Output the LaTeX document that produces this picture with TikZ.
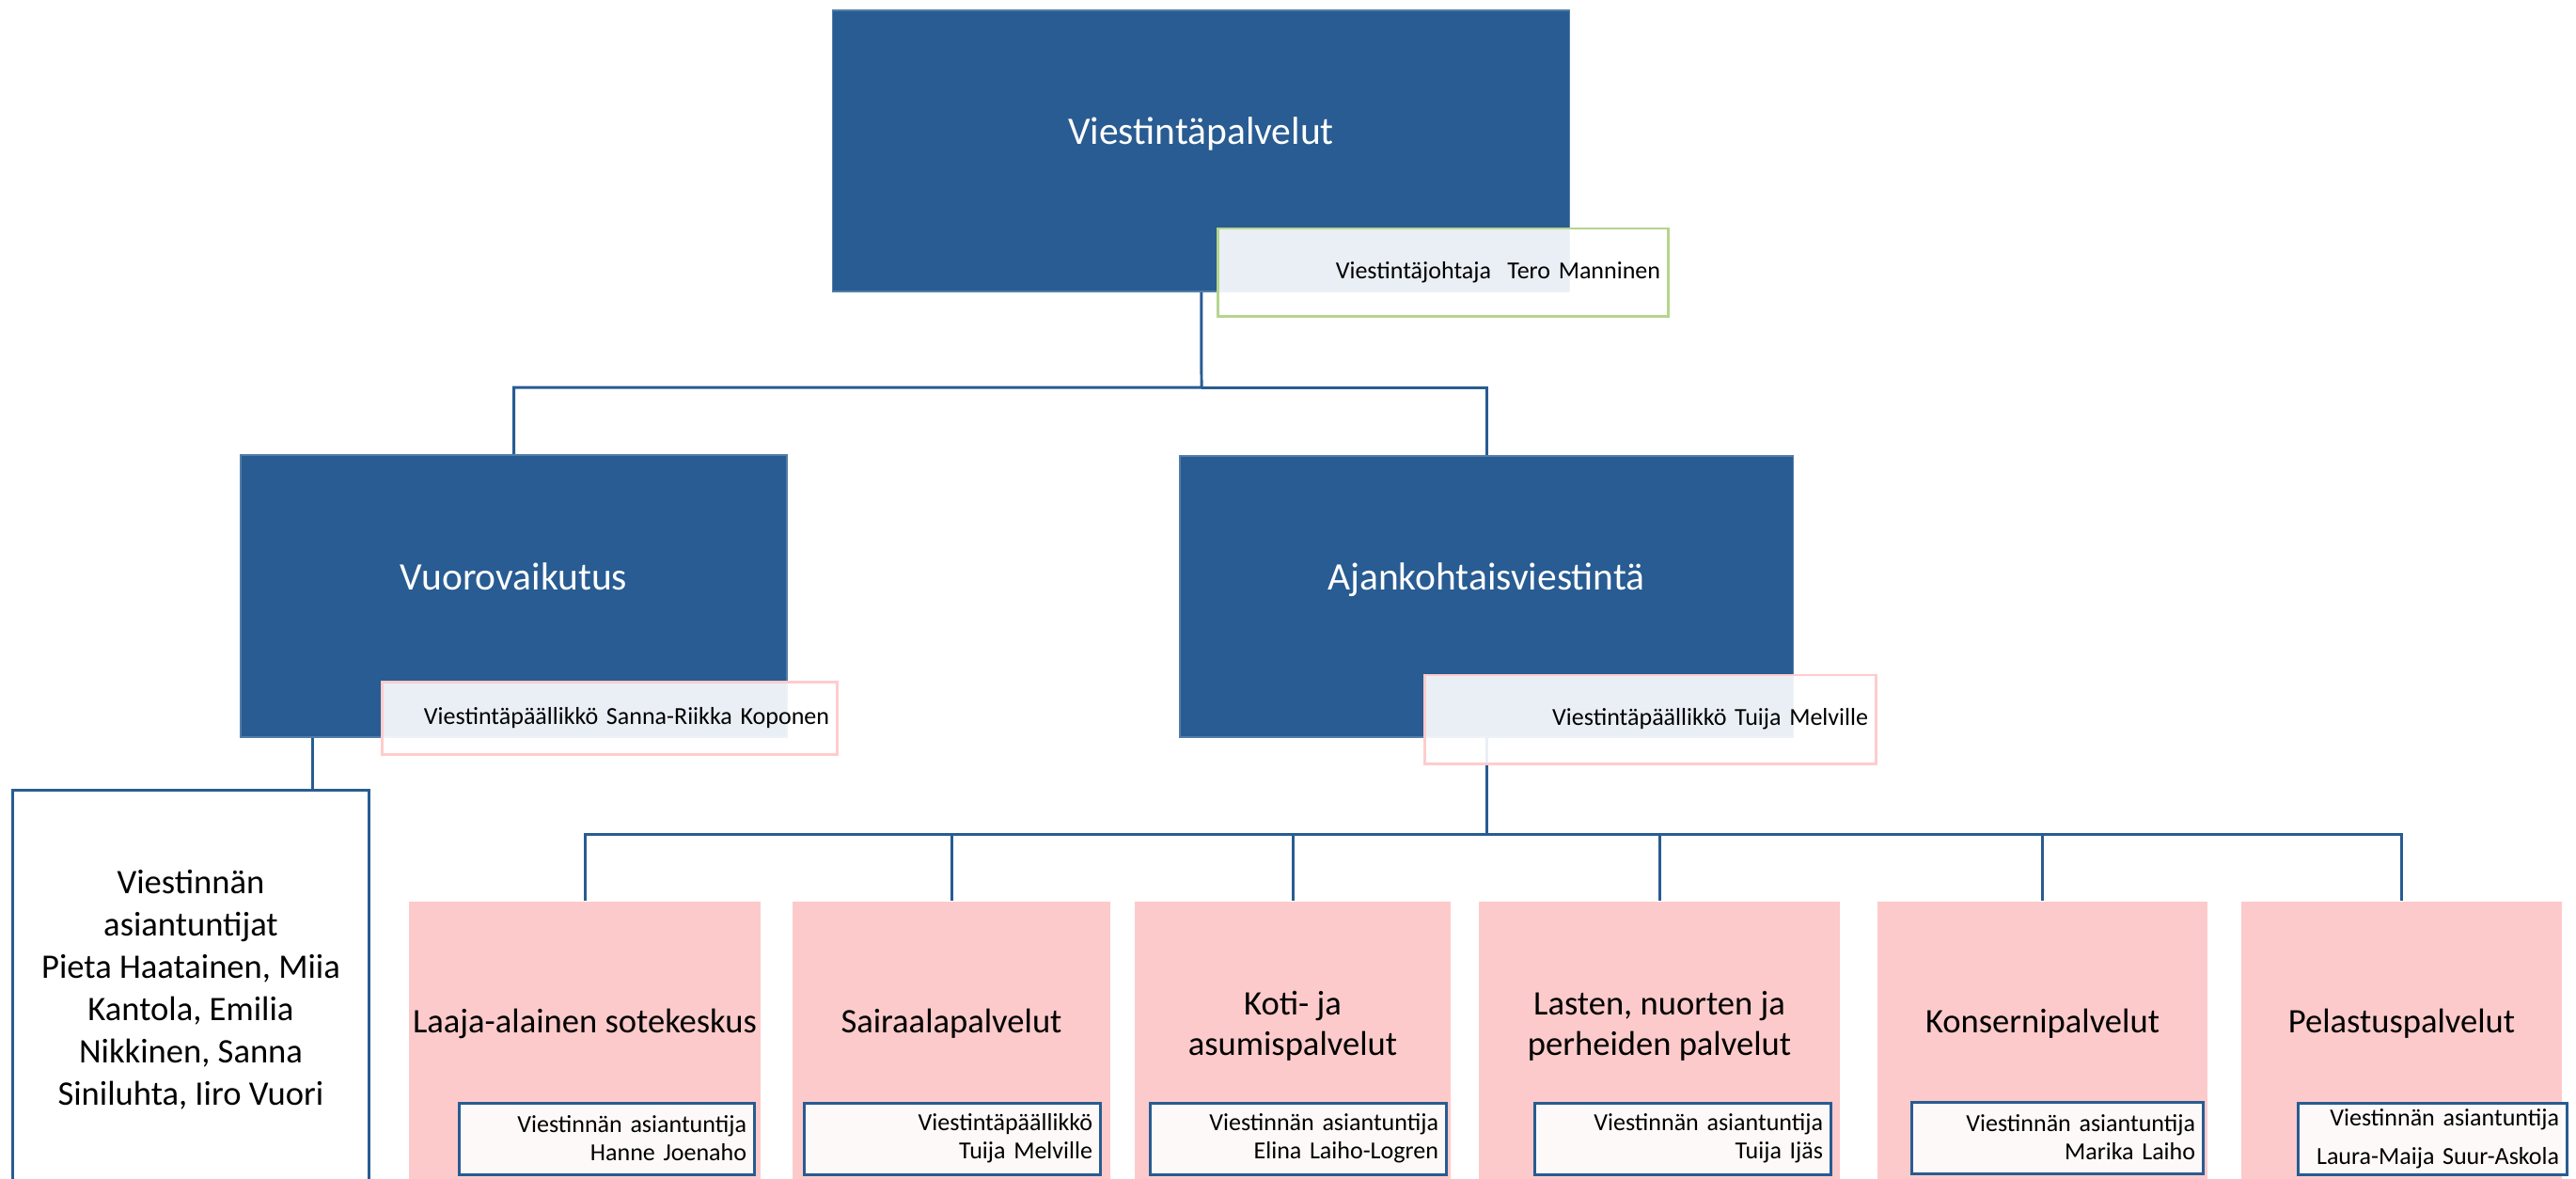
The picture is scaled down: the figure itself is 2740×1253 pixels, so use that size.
\documentclass[tikz,border=0pt]{standalone}
\usepackage{fontspec}
\setmainfont{Carlito}
\usetikzlibrary{backgrounds}

\definecolor{ovblue}{RGB}{40,92,146}
\definecolor{kidpink}{RGB}{252,202,202}
\definecolor{labgreen}{RGB}{181,213,140}
\definecolor{labpink}{RGB}{255,204,204}

\tikzset{
  unit/.style={fill=ovblue, draw=ovblue!80!white, line width=0.4pt, inner sep=0pt},
  unittext/.style={text=white, anchor=base, font=\fontsize{11.8}{14}\selectfont},
  headlabel/.style={fill=white, fill opacity=0.9, text opacity=1, line width=0.85pt,
    align=right, inner xsep=0.08cm, inner ysep=0pt, font=\fontsize{7.4}{9}\selectfont},
  kid/.style={fill=kidpink, inner sep=0pt, minimum height=3.06cm},
  kidtext/.style={font=\fontsize{10.4}{12.2}\selectfont, align=center},
  kidlabel/.style={fill=white, fill opacity=0.9, text opacity=1, draw=ovblue, line width=0.85pt,
    align=right, inner xsep=0.08cm, inner ysep=0pt, minimum height=0.76cm,
    font=\fontsize{7.4}{8.5}\selectfont},
  staff/.style={draw=ovblue, fill=white, line width=0.85pt, align=center,
    font=\fontsize{10.4}{12.8}\selectfont},
  conn/.style={draw=ovblue, line width=0.85pt}
}

\begin{document}
\begin{tikzpicture}[x=0.01cm, y=-0.01cm]
\useasboundingbox (0,0) rectangle (2740,1253);

% top level
\node[unit, minimum width=7.83cm, minimum height=2.99cm] (viest) at (1277.5,160.5) {};
\node[unittext] (viestt) at (1277.5,153) {Viestintäpalvelut};
\node[headlabel, draw=labgreen, minimum height=0.93cm, text width=4.62cm] (viestl) at (1535,289.5)
  {Viestintäjohtaja\ \ Tero Manninen};

% second level
\node[unit, minimum width=5.81cm, minimum height=3.00cm] (vuoro) at (546.5,634) {};
\node[unittext] (vuorot) at (546.5,627) {Vuorovaikutus};
\node[headlabel, draw=labpink, minimum height=0.77cm, text width=4.67cm] (vuorol) at (648.5,763.5)
  {Viestintäpäällikkö Sanna-Riikka Koponen};

\node[unit, minimum width=6.52cm, minimum height=2.99cm] (ajan) at (1581,634.5) {};
\node[unittext] (ajant) at (1581,627) {Ajankohtaisviestintä};
\node[headlabel, draw=labpink, minimum height=0.94cm, text width=4.63cm] (ajanl) at (1755.5,765)
  {Viestintäpäällikkö Tuija Melville};

% staff under Vuorovaikutus
\node[staff, minimum width=3.78cm, minimum height=4.24cm] (asiant) at (203,1053)
  {Viestinnän\\asiantuntijat\\Pieta Haatainen, Miia\\Kantola, Emilia\\Nikkinen, Sanna\\Siniluhta, Iiro Vuori};

% third level
\node[kid, minimum width=3.74cm] (c1) at (622,1112) {};
\node[kid, minimum width=3.38cm] (c2) at (1012,1112) {};
\node[kid, minimum width=3.36cm] (c3) at (1375,1112) {};
\node[kid, minimum width=3.84cm] (c4) at (1765,1112) {};
\node[kid, minimum width=3.51cm] (c5) at (2172.5,1112) {};
\node[kid, minimum width=3.41cm] (c6) at (2554.5,1112) {};

\node[kidtext, anchor=base] (t1) at (622,1098) {Laaja-alainen sotekeskus};
\node[kidtext, anchor=base] (t2) at (1012,1098) {Sairaalapalvelut};
\node[kidtext] (t3) at (1375,1091) {Koti- ja\\asumispalvelut};
\node[kidtext] (t4) at (1765,1091) {Lasten, nuorten ja\\perheiden palvelut};
\node[kidtext, anchor=base] (t5) at (2172.5,1098) {Konsernipalvelut};
\node[kidtext, anchor=base] (t6) at (2554.5,1098) {Pelastuspalvelut};

\node[kidlabel, text width=2.97cm] (l1) at (645.5,1211) {Viestinnän asiantuntija\\Hanne Joenaho};
\node[kidlabel, text width=2.98cm] (l2) at (1013,1211) {Viestintäpäällikkö\\Tuija Melville};
\node[kidlabel, text width=2.98cm] (l3) at (1381,1211) {Viestinnän asiantuntija\\Elina Laiho-Logren};
\node[kidlabel, text width=2.98cm] (l4) at (1790,1211) {Viestinnän asiantuntija\\Tuija Ijäs};
\node[kidlabel, text width=2.93cm] (l5) at (2188.5,1210) {Viestinnän asiantuntija\\Marika Laiho};
\node[kidlabel, text width=2.69cm, font=\fontsize{7.4}{11.7}\selectfont] (l6) at (2587.5,1211)
  {Viestinnän asiantuntija\\Laura-Maija Suur-Askola};

% connectors
\begin{scope}[on background layer]
  \coordinate (j1) at (1278,412);
  \coordinate (j2) at (1581,887);
  \draw[conn] (viest) -- (j1) -| (vuoro);
  \draw[conn] (j1) -| (ajan);
  \draw[conn] ([xshift=0.77cm]vuoro.south west) -- ([xshift=0.77cm]vuoro.south west |- asiant.north);
  \draw[conn] (ajan) -- (j2);
  \foreach \k in {1,...,6}
    \draw[conn] (j2) -| (c\k);
\end{scope}
\end{tikzpicture}
\end{document}
